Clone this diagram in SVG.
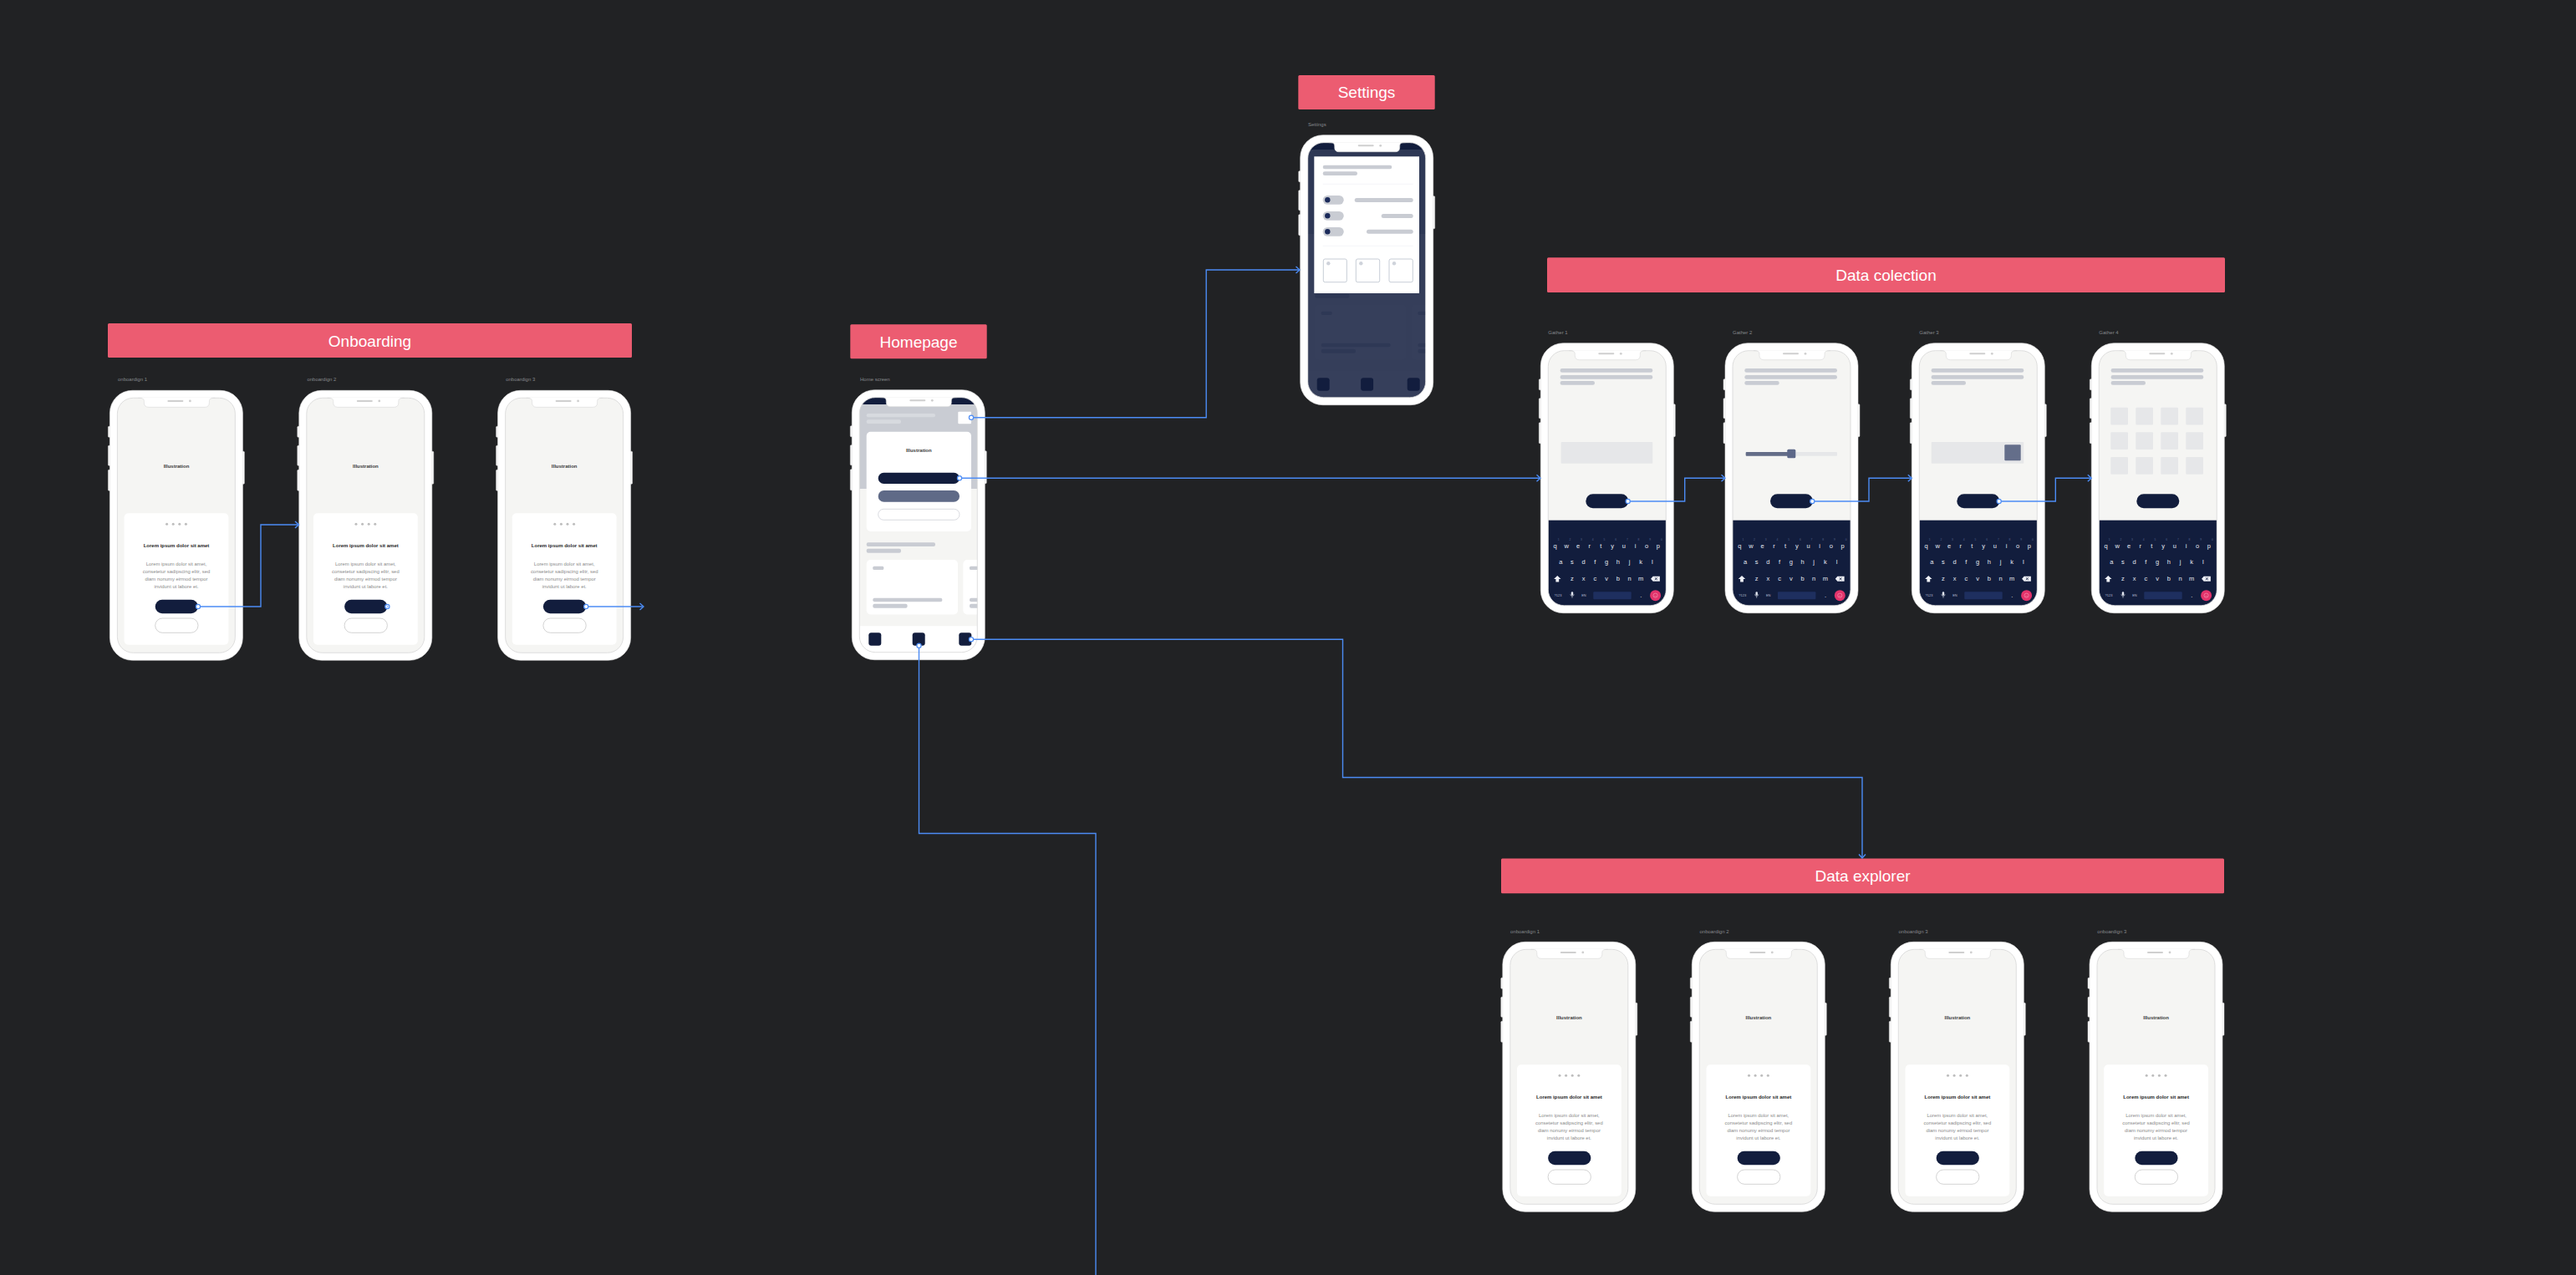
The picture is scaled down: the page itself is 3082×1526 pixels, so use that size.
<svg xmlns="http://www.w3.org/2000/svg" width="3082" height="1526" viewBox="0 0 3082 1526">
<style>
text{font-family:"Liberation Sans",Arial,sans-serif}
.ban{font-size:19px;fill:#fff;text-anchor:middle}
.lbl{font-size:6px;fill:#85878b}
.ill{font-size:6px;font-weight:bold;fill:#3a3a3a;text-anchor:middle}
.ttl{font-size:6px;font-weight:bold;fill:#262626;text-anchor:middle}
.bdy{font-size:5.9px;fill:#8c8c8c;text-anchor:middle}
.kb{font-size:7.5px;fill:#e3e7f0;text-anchor:middle}
.kn{font-size:3.3px;fill:#56638a;text-anchor:middle}
.ks{font-size:4px;fill:#b4bbcf;text-anchor:middle}
.banner{fill:#ec5c71}
.con{fill:none;stroke:#4c8cf5;stroke-width:1.4}
.arr{marker-end:url(#arr)}
.pt{fill:#fff;stroke:#4c8cf5;stroke-width:1.2}
.sb{fill:#fafafa;stroke:#d9d9d9;stroke-width:0.5}
.g1{fill:#c9ccd3}
.g2{fill:#e6e7e9}
.nv{fill:#121d3d}
.pd{fill:#bdbdbd}
</style>
<defs>
<marker id="arr" markerUnits="userSpaceOnUse" markerWidth="10" markerHeight="10" viewBox="0 0 10 10" refX="9" refY="5" orient="auto">
<path d="M4.5,1 L9,5 L4.5,9" fill="none" stroke="#4c8cf5" stroke-width="1.4"/>
</marker>
<clipPath id="scr"><rect x="9" y="9" width="141" height="305" rx="19"/></clipPath>
<g id="body">
<rect class="sb" x="-2" y="43" width="3" height="13" rx="1"/>
<rect class="sb" x="-2" y="66" width="3" height="24" rx="1"/>
<rect class="sb" x="-2" y="95" width="3" height="25" rx="1"/>
<rect class="sb" x="158" y="73" width="3" height="39" rx="1"/>
<rect x="0" y="0" width="159" height="323" rx="27" fill="#fff" stroke="#e4e4e4" stroke-width="0.6"/>
</g>
<g id="top">
<rect x="9" y="9" width="141" height="305" rx="19" fill="none" stroke="#d6d6d6" stroke-width="0.8"/>
<path d="M34,8.6 C39.5,8.6 41,10 41,13.5 L41,15 C41,18 43,20 46,20 L114,20 C117,20 119,18 119,15 L119,13.5 C119,10 120.5,8.6 126,8.6 Z" fill="#fff"/>
<path d="M34,9 C39.5,9 41,10 41,13.5 L41,15 C41,18 43,20 46,20 L114,20 C117,20 119,18 119,15 L119,13.5 C119,10 120.5,9 126,9" fill="none" stroke="#d6d6d6" stroke-width="0.6"/>
<rect x="69" y="11.6" width="19" height="2" rx="1" fill="#cfcfcf"/>
<circle cx="96" cy="12.6" r="1.4" fill="#cfcfcf"/>
</g>
<g id="onbShapes">
<rect x="9" y="9" width="141" height="305" fill="#f5f5f3"/>
<rect x="17.2" y="147" width="124.8" height="157.4" rx="5" fill="#fff"/>
<circle class="pd" cx="68.2" cy="160" r="1.5"/>
<circle class="pd" cx="75.8" cy="160" r="1.5"/>
<circle class="pd" cx="83.4" cy="160" r="1.5"/>
<circle class="pd" cx="91" cy="160" r="1.5"/>
<rect class="nv" x="54.3" y="250.4" width="51.3" height="16.6" rx="8.3"/>
<rect x="54.3" y="272.7" width="51.3" height="17.3" rx="8.6" fill="#fff" stroke="#b5b5b5" stroke-width="0.6"/>
</g>
<g id="homeShapes">
<rect x="9" y="9" width="141" height="305" fill="#f5f5f3"/>
<rect class="g1" x="9" y="9" width="141" height="109.3"/>
<rect class="nv" x="9" y="9" width="141" height="8.3"/>
<rect x="17.4" y="28.3" width="82.3" height="4.3" rx="2" fill="#d7dadf"/>
<rect x="17.4" y="35.6" width="41.3" height="4.7" rx="2" fill="#d7dadf"/>
<rect x="127" y="26" width="15.7" height="14.6" rx="1" fill="#fff"/>
<rect x="17.4" y="50" width="125.3" height="119.3" rx="5" fill="#fff"/>
<rect class="nv" x="31.4" y="99" width="97.3" height="13.3" rx="6.6"/>
<rect x="31.4" y="120.3" width="97.3" height="13.7" rx="6.8" fill="#5f6a87"/>
<rect x="31.4" y="142.6" width="97.3" height="13" rx="6.5" fill="#fff" stroke="#c9ccd3" stroke-width="0.7"/>
<rect class="g1" x="17.4" y="182.6" width="82.3" height="4.7" rx="2"/>
<rect class="g1" x="17.4" y="190" width="41.3" height="5" rx="2"/>
<rect x="17.4" y="203.3" width="109.3" height="65.4" rx="5" fill="#fff"/>
<rect class="g1" x="25" y="211" width="13" height="4.3" rx="1.5"/>
<rect class="g1" x="25" y="249" width="83" height="4.6" rx="2"/>
<rect class="g1" x="25" y="256" width="41.3" height="5" rx="2"/>
<rect x="133" y="203.3" width="40" height="65.4" rx="5" fill="#fff"/>
<rect class="g1" x="140.7" y="211" width="13" height="4.3" rx="1.5"/>
<rect class="g1" x="140.7" y="249" width="30" height="4.6" rx="2"/>
<rect class="g1" x="140.7" y="256" width="20" height="5" rx="2"/>
<rect x="9" y="282.6" width="141" height="32" fill="#fff"/>
<rect class="nv" x="20" y="290.6" width="15" height="15.4" rx="3"/>
<rect class="nv" x="72.4" y="290.6" width="15" height="15.4" rx="3"/>
<rect class="nv" x="128" y="290.6" width="15" height="15.4" rx="3"/>
</g>
<g id="gBase">
<rect x="9" y="9" width="141" height="305" fill="#f5f5f3"/>
<rect class="g1" x="23.3" y="30.3" width="110.7" height="4.7" rx="2.3"/>
<rect class="g1" x="23.3" y="38.3" width="110.7" height="4.7" rx="2.3"/>
<rect class="g1" x="23.3" y="45.3" width="41.4" height="4.7" rx="2.3"/>
<rect class="nv" x="54" y="180.6" width="51" height="17" rx="8.5"/>
<rect class="nv" x="9" y="212" width="141" height="103"/>
<path d="M20,278.2 L24.2,282.4 L21.9,282.4 L21.9,285.8 L18.1,285.8 L18.1,282.4 L15.8,282.4 Z" fill="#eef0f6"/>
<path d="M131.8,282 L134.4,279 L142.6,279 L142.6,285 L134.4,285 Z" fill="#eef0f6"/>
<path d="M136.6,280.6 L139.6,283.4 M139.6,280.6 L136.6,283.4" stroke="#121d3d" stroke-width="0.8"/>
<rect x="36.5" y="297.6" width="2.4" height="4.4" rx="1.2" fill="#e3e7f0"/>
<path d="M35.6,300.6 A2.1,2.1 0 0 0 39.8,300.6 M37.7,302.8 V305" fill="none" stroke="#e3e7f0" stroke-width="0.6"/>
<rect x="63" y="297.6" width="45.4" height="9" rx="1" fill="#1e2f5f"/>
<circle cx="137.3" cy="302" r="6.5" fill="#e3336b"/>
<circle cx="137.3" cy="302" r="2.6" fill="none" stroke="#f6a3bd" stroke-width="0.6"/>
<path d="M136,302.6 Q137.3,303.8 138.6,302.6" fill="none" stroke="#f6a3bd" stroke-width="0.5"/>
</g>
</defs>

<rect x="0" y="0" width="3082" height="1526" fill="#212224"/>

<!-- Banners -->
<g id="banner-onboarding"><rect class="banner" x="129" y="387" width="627" height="41" rx="1.5"/><text class="ban" x="442.5" y="414.5">Onboarding</text></g>
<g id="banner-homepage"><rect class="banner" x="1017.3" y="388.3" width="163.4" height="41" rx="1.5"/><text class="ban" x="1099" y="415.5">Homepage</text></g>
<g id="banner-settings"><rect class="banner" x="1553.3" y="90" width="163.4" height="41" rx="1.5"/><text class="ban" x="1635" y="117.2">Settings</text></g>
<g id="banner-data-colection"><rect class="banner" x="1851" y="308.3" width="811" height="41.7" rx="1.5"/><text class="ban" x="2256.5" y="336">Data colection</text></g>
<g id="banner-data-explorer"><rect class="banner" x="1796" y="1027.5" width="865" height="41.7" rx="1.5"/><text class="ban" x="2228.5" y="1055">Data explorer</text></g>

<!-- Onboarding phones -->
<g id="onboarding-1" transform="translate(131.4,467.3)">
<text class="lbl" x="9.6" y="-11.3">onboardign 1</text>
<use href="#body"/><g clip-path="url(#scr)"><use href="#onbShapes"/></g><use href="#top"/>
<text class="ill" x="79.6" y="92.5">Illustration</text>
<text class="ttl" x="79.6" y="188">Lorem ipsum dolor sit amet</text>
<text class="bdy" x="79.6" y="210">Lorem ipsum dolor sit amet,<tspan x="79.6" dy="9">consetetur sadipscing elitr, sed</tspan><tspan x="79.6" dy="9">diam nonumy eirmod tempor</tspan><tspan x="79.6" dy="9">invidunt ut labore et.</tspan></text>
</g>
<g id="onboarding-2" transform="translate(357.8,467.3)">
<text class="lbl" x="9.6" y="-11.3">onboardign 2</text>
<use href="#body"/><g clip-path="url(#scr)"><use href="#onbShapes"/></g><use href="#top"/>
<text class="ill" x="79.6" y="92.5">Illustration</text>
<text class="ttl" x="79.6" y="188">Lorem ipsum dolor sit amet</text>
<text class="bdy" x="79.6" y="210">Lorem ipsum dolor sit amet,<tspan x="79.6" dy="9">consetetur sadipscing elitr, sed</tspan><tspan x="79.6" dy="9">diam nonumy eirmod tempor</tspan><tspan x="79.6" dy="9">invidunt ut labore et.</tspan></text>
</g>
<g id="onboarding-3" transform="translate(595.6,467.3)">
<text class="lbl" x="9.6" y="-11.3">onboardign 3</text>
<use href="#body"/><g clip-path="url(#scr)"><use href="#onbShapes"/></g><use href="#top"/>
<text class="ill" x="79.6" y="92.5">Illustration</text>
<text class="ttl" x="79.6" y="188">Lorem ipsum dolor sit amet</text>
<text class="bdy" x="79.6" y="210">Lorem ipsum dolor sit amet,<tspan x="79.6" dy="9">consetetur sadipscing elitr, sed</tspan><tspan x="79.6" dy="9">diam nonumy eirmod tempor</tspan><tspan x="79.6" dy="9">invidunt ut labore et.</tspan></text>
</g>

<!-- Homepage -->
<g id="home-screen" transform="translate(1019.3,466.7)">
<text class="lbl" x="9.7" y="-10.7">Home screen</text>
<use href="#body"/><g clip-path="url(#scr)"><use href="#homeShapes"/></g><use href="#top"/>
<text class="ill" x="80" y="74">Illustration</text>
</g>

<!-- Settings -->
<g id="settings" transform="translate(1555.7,161.7)">
<text class="lbl" x="9.3" y="-10.7">Settings</text>
<use href="#body"/>
<g clip-path="url(#scr)">
<use href="#homeShapes"/>
<rect x="9" y="17.3" width="141" height="297" fill="#131d3e" opacity="0.85"/>
<rect x="16.6" y="25.6" width="125.7" height="163.7" fill="#fff"/>
<rect class="g1" x="27" y="36" width="82.6" height="4.6" rx="2.3"/>
<rect class="g1" x="27" y="43.6" width="41.3" height="4.7" rx="2.3"/>
<path d="M27,58.6 H135 M27,132.6 H135" stroke="#eceef1" stroke-width="0.6"/>
<rect class="g1" x="27" y="72.3" width="25" height="10.7" rx="5.35"/>
<circle cx="32.6" cy="77.6" r="3.2" fill="#1b2a5a"/>
<rect class="g1" x="27" y="91.3" width="25" height="10.7" rx="5.35"/>
<circle cx="32.6" cy="96.6" r="3.2" fill="#1b2a5a"/>
<rect class="g1" x="27" y="110.3" width="25" height="10.7" rx="5.35"/>
<circle cx="32.6" cy="115.6" r="3.2" fill="#1b2a5a"/>
<rect class="g1" x="65" y="75.3" width="70" height="5" rx="2.5"/>
<rect class="g1" x="97" y="94.3" width="38" height="5" rx="2.5"/>
<rect class="g1" x="79.3" y="113" width="55.7" height="5" rx="2.5"/>
<rect x="27.6" y="148.3" width="28" height="27.7" rx="2" fill="#fff" stroke="#b9c0cc" stroke-width="0.8"/>
<rect x="66.6" y="148.3" width="28.4" height="27.7" rx="2" fill="#fff" stroke="#b9c0cc" stroke-width="0.8"/>
<rect x="106.3" y="148.3" width="28.3" height="27.7" rx="2" fill="#fff" stroke="#b9c0cc" stroke-width="0.8"/>
<circle cx="33.6" cy="153.6" r="2.2" fill="#cfd3db"/>
<circle cx="72.6" cy="153.6" r="2.2" fill="#cfd3db"/>
<circle cx="112.3" cy="153.6" r="2.2" fill="#cfd3db"/>
</g>
<use href="#top"/>
</g>

<!-- Data colection -->
<g id="gather-1" transform="translate(1843.3,410.7)">
<text class="lbl" x="9" y="-11">Gather 1</text>
<use href="#body"/><g clip-path="url(#scr)"><use href="#gBase"/>
<rect class="g2" x="24.3" y="118.3" width="109.7" height="25.7" rx="1"/></g><use href="#top"/>
<text class="kn" x="21.3 35 48.7 62.4 76.1 89.8 103.5 117.2 130.9 144.6" y="236.5">1234567890</text>
<text class="kb" x="17.3 31 44.7 58.4 72.1 85.8 99.5 113.2 126.9 140.6" y="245.2">qwertyuiop</text>
<text class="kb" x="24 37.7 51.4 65.1 78.8 92.5 106.2 119.9 133.6" y="264.6">asdfghjkl</text>
<text class="kb" x="37.7 51.4 65.1 78.8 92.5 106.2 119.9" y="284.6">zxcvbnm</text>
<text class="ks" x="20.7" y="303.4">?123</text>
<text class="ks" x="51.7" y="303.4">EN</text>
<text class="kb" x="120" y="304.6">.</text>
</g>
<g id="gather-2" transform="translate(2064,410.7)">
<text class="lbl" x="9" y="-11">Gather 2</text>
<use href="#body"/><g clip-path="url(#scr)"><use href="#gBase"/>
<rect class="g2" x="24.7" y="130.3" width="109.3" height="4.7" rx="1"/>
<rect x="24.7" y="130.3" width="54.6" height="4.7" rx="1" fill="#646d88"/>
<rect x="74.3" y="127" width="10" height="10.6" rx="1.5" fill="#5d6889"/></g><use href="#top"/>
<text class="kn" x="21.3 35 48.7 62.4 76.1 89.8 103.5 117.2 130.9 144.6" y="236.5">1234567890</text>
<text class="kb" x="17.3 31 44.7 58.4 72.1 85.8 99.5 113.2 126.9 140.6" y="245.2">qwertyuiop</text>
<text class="kb" x="24 37.7 51.4 65.1 78.8 92.5 106.2 119.9 133.6" y="264.6">asdfghjkl</text>
<text class="kb" x="37.7 51.4 65.1 78.8 92.5 106.2 119.9" y="284.6">zxcvbnm</text>
<text class="ks" x="20.7" y="303.4">?123</text>
<text class="ks" x="51.7" y="303.4">EN</text>
<text class="kb" x="120" y="304.6">.</text>
</g>
<g id="gather-3" transform="translate(2287.3,410.7)">
<text class="lbl" x="9" y="-11">Gather 3</text>
<use href="#body"/><g clip-path="url(#scr)"><use href="#gBase"/>
<rect class="g2" x="23.4" y="118.3" width="110.6" height="25.7" rx="1"/>
<rect x="111" y="121.6" width="19.4" height="19" rx="1" fill="#646e8a"/></g><use href="#top"/>
<text class="kn" x="21.3 35 48.7 62.4 76.1 89.8 103.5 117.2 130.9 144.6" y="236.5">1234567890</text>
<text class="kb" x="17.3 31 44.7 58.4 72.1 85.8 99.5 113.2 126.9 140.6" y="245.2">qwertyuiop</text>
<text class="kb" x="24 37.7 51.4 65.1 78.8 92.5 106.2 119.9 133.6" y="264.6">asdfghjkl</text>
<text class="kb" x="37.7 51.4 65.1 78.8 92.5 106.2 119.9" y="284.6">zxcvbnm</text>
<text class="ks" x="20.7" y="303.4">?123</text>
<text class="ks" x="51.7" y="303.4">EN</text>
<text class="kb" x="120" y="304.6">.</text>
</g>
<g id="gather-4" transform="translate(2502.3,410.7)">
<text class="lbl" x="9" y="-11">Gather 4</text>
<use href="#body"/><g clip-path="url(#scr)"><use href="#gBase"/>
<rect class="g2" x="23" y="77" width="20.7" height="20.7" rx="1"/><rect class="g2" x="53" y="77" width="20.7" height="20.7" rx="1"/><rect class="g2" x="83" y="77" width="20.7" height="20.7" rx="1"/><rect class="g2" x="113" y="77" width="20.7" height="20.7" rx="1"/>
<rect class="g2" x="23" y="106.6" width="20.7" height="20.7" rx="1"/><rect class="g2" x="53" y="106.6" width="20.7" height="20.7" rx="1"/><rect class="g2" x="83" y="106.6" width="20.7" height="20.7" rx="1"/><rect class="g2" x="113" y="106.6" width="20.7" height="20.7" rx="1"/>
<rect class="g2" x="23" y="136.3" width="20.7" height="20.7" rx="1"/><rect class="g2" x="53" y="136.3" width="20.7" height="20.7" rx="1"/><rect class="g2" x="83" y="136.3" width="20.7" height="20.7" rx="1"/><rect class="g2" x="113" y="136.3" width="20.7" height="20.7" rx="1"/>
</g><use href="#top"/>
<text class="kn" x="21.3 35 48.7 62.4 76.1 89.8 103.5 117.2 130.9 144.6" y="236.5">1234567890</text>
<text class="kb" x="17.3 31 44.7 58.4 72.1 85.8 99.5 113.2 126.9 140.6" y="245.2">qwertyuiop</text>
<text class="kb" x="24 37.7 51.4 65.1 78.8 92.5 106.2 119.9 133.6" y="264.6">asdfghjkl</text>
<text class="kb" x="37.7 51.4 65.1 78.8 92.5 106.2 119.9" y="284.6">zxcvbnm</text>
<text class="ks" x="20.7" y="303.4">?123</text>
<text class="ks" x="51.7" y="303.4">EN</text>
<text class="kb" x="120" y="304.6">.</text>
</g>

<!-- Data explorer -->
<g id="explorer-1" transform="translate(1797.8,1127.3)">
<text class="lbl" x="9.2" y="-10.3">onboardign 1</text>
<use href="#body"/><g clip-path="url(#scr)"><use href="#onbShapes"/></g><use href="#top"/>
<text class="ill" x="79.6" y="92.5">Illustration</text>
<text class="ttl" x="79.6" y="188">Lorem ipsum dolor sit amet</text>
<text class="bdy" x="79.6" y="210">Lorem ipsum dolor sit amet,<tspan x="79.6" dy="9">consetetur sadipscing elitr, sed</tspan><tspan x="79.6" dy="9">diam nonumy eirmod tempor</tspan><tspan x="79.6" dy="9">invidunt ut labore et.</tspan></text>
</g>
<g id="explorer-2" transform="translate(2024.3,1127.3)">
<text class="lbl" x="9.2" y="-10.3">onboardign 2</text>
<use href="#body"/><g clip-path="url(#scr)"><use href="#onbShapes"/></g><use href="#top"/>
<text class="ill" x="79.6" y="92.5">Illustration</text>
<text class="ttl" x="79.6" y="188">Lorem ipsum dolor sit amet</text>
<text class="bdy" x="79.6" y="210">Lorem ipsum dolor sit amet,<tspan x="79.6" dy="9">consetetur sadipscing elitr, sed</tspan><tspan x="79.6" dy="9">diam nonumy eirmod tempor</tspan><tspan x="79.6" dy="9">invidunt ut labore et.</tspan></text>
</g>
<g id="explorer-3" transform="translate(2262.3,1127.3)">
<text class="lbl" x="9.2" y="-10.3">onboardign 3</text>
<use href="#body"/><g clip-path="url(#scr)"><use href="#onbShapes"/></g><use href="#top"/>
<text class="ill" x="79.6" y="92.5">Illustration</text>
<text class="ttl" x="79.6" y="188">Lorem ipsum dolor sit amet</text>
<text class="bdy" x="79.6" y="210">Lorem ipsum dolor sit amet,<tspan x="79.6" dy="9">consetetur sadipscing elitr, sed</tspan><tspan x="79.6" dy="9">diam nonumy eirmod tempor</tspan><tspan x="79.6" dy="9">invidunt ut labore et.</tspan></text>
</g>
<g id="explorer-4" transform="translate(2500,1127.3)">
<text class="lbl" x="9.2" y="-10.3">onboardign 3</text>
<use href="#body"/><g clip-path="url(#scr)"><use href="#onbShapes"/></g><use href="#top"/>
<text class="ill" x="79.6" y="92.5">Illustration</text>
<text class="ttl" x="79.6" y="188">Lorem ipsum dolor sit amet</text>
<text class="bdy" x="79.6" y="210">Lorem ipsum dolor sit amet,<tspan x="79.6" dy="9">consetetur sadipscing elitr, sed</tspan><tspan x="79.6" dy="9">diam nonumy eirmod tempor</tspan><tspan x="79.6" dy="9">invidunt ut labore et.</tspan></text>
</g>

<!-- Connectors -->
<g id="connectors">
<path class="con arr" d="M1162,499.7 H1443.2 V323 H1555"/>
<path class="con arr" d="M1148,572.3 H1843"/>
<path class="con arr" d="M1162,765.3 H1606.5 V930.5 H2228 V1027"/>
<path class="con" d="M1099.5,772.7 V997.5 H1311 V1526"/>
<path class="con arr" d="M237,726 H312 V628 H357.5"/>
<path class="con arr" d="M701.2,726 H770"/>
<path class="con arr" d="M1947.7,600 H2015.7 V572.3 H2064"/>
<path class="con arr" d="M2168.3,600 H2236 V572.3 H2287.3"/>
<path class="con arr" d="M2391.7,600 H2459.3 V572.3 H2502.3"/>
<circle class="pt" cx="1162" cy="499.7" r="2.6"/>
<circle class="pt" cx="1148" cy="572.3" r="2.6"/>
<circle class="pt" cx="1162" cy="765.3" r="2.6"/>
<circle class="pt" cx="1099.5" cy="772.7" r="2.6"/>
<circle class="pt" cx="237" cy="726" r="2.6"/>
<circle class="pt" cx="463.4" cy="726" r="2.6"/>
<path d="M462.6,724.4 L464.4,726 L462.6,727.6" fill="none" stroke="#4c8cf5" stroke-width="0.8"/>
<circle class="pt" cx="701.2" cy="726" r="2.6"/>
<circle class="pt" cx="1947.7" cy="600" r="2.6"/>
<circle class="pt" cx="2168.3" cy="600" r="2.6"/>
<circle class="pt" cx="2391.7" cy="600" r="2.6"/>
</g>
</svg>
